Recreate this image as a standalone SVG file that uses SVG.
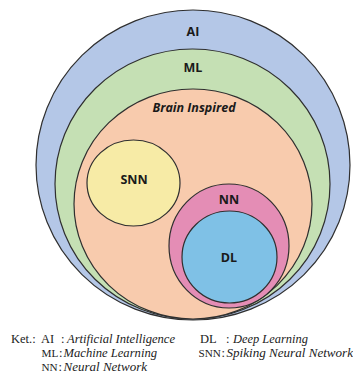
<svg xmlns="http://www.w3.org/2000/svg" width="353" height="374" viewBox="0 0 353 374">
<style>
.c{stroke:#2f2f2f;stroke-width:1.2}
.lb{font-family:"Open Sans","Liberation Sans",sans-serif;font-weight:bold;font-size:12.5px;fill:#1a1a1a;text-anchor:middle}
.lg{font-family:"Liberation Serif",serif;font-size:12.5px;fill:#222}
.ab{font-size:11.2px}
.it{font-style:italic}
</style>
<rect width="353" height="374" fill="#ffffff"/>
<g id="ai"><ellipse class="c" cx="193" cy="165" rx="157" ry="155" fill="#b4c7e7"/><text class="lb" x="193" y="36">AI</text></g>
<g id="ml"><ellipse class="c" cx="192.5" cy="184" rx="137.5" ry="135" fill="#c5e0b4"/><text class="lb" x="193" y="72">ML</text></g>
<g id="brain"><ellipse class="c" cx="193" cy="204" rx="119" ry="115" fill="#f8cbad"/><text class="lb" x="194" y="112" font-style="italic" font-size="13.5">Brain Inspired</text></g>
<g id="snn"><ellipse class="c" cx="133.5" cy="183" rx="46.5" ry="43" fill="#f7eba6"/><text class="lb" x="134" y="184">SNN</text></g>
<g id="nn"><ellipse class="c" cx="229" cy="246" rx="60" ry="62" fill="#e48db5"/><text class="lb" x="229" y="204">NN</text></g>
<g id="dl"><ellipse class="c" cx="229.5" cy="257" rx="47.5" ry="46" fill="#7fc1e6"/><text class="lb" x="229" y="262">DL</text></g>
<g id="legend">
<text class="lg" y="343"><tspan x="11">Ket.:</tspan><tspan x="41">AI</tspan><tspan x="61">:</tspan><tspan class="it" x="67" textLength="108" lengthAdjust="spacingAndGlyphs">Artificial Intelligence</tspan></text>
<text class="lg" y="357"><tspan class="ab" x="41.5">ML</tspan><tspan x="59">:</tspan><tspan class="it" x="63.5" textLength="93.5" lengthAdjust="spacingAndGlyphs">Machine Learning</tspan></text>
<text class="lg" y="371"><tspan class="ab" x="41.5">NN</tspan><tspan x="58.5">:</tspan><tspan class="it" x="63.5" textLength="83.5" lengthAdjust="spacingAndGlyphs">Neural Network</tspan></text>
<text class="lg" y="343"><tspan x="200">DL</tspan><tspan x="226">:</tspan><tspan class="it" x="233" textLength="75" lengthAdjust="spacingAndGlyphs">Deep Learning</tspan></text>
<text class="lg" y="357"><tspan class="ab" x="198.5">SNN</tspan><tspan x="221.5">:</tspan><tspan class="it" x="226.5" textLength="126.5" lengthAdjust="spacingAndGlyphs">Spiking Neural Network</tspan></text>
</g>
</svg>
